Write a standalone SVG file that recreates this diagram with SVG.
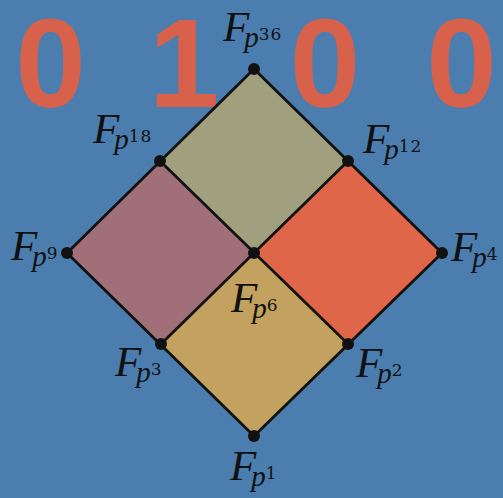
<svg xmlns="http://www.w3.org/2000/svg" width="503" height="498" viewBox="0 0 503 498">
<style>
.bg{fill:#4b7eaf}
.dig{font-family:"Liberation Sans",Arial,sans-serif;font-weight:bold;font-size:127px;fill:#d8614b;text-anchor:middle}
.edge{stroke:#111;stroke-width:2.8;stroke-linecap:round;fill:none}
.dot{fill:#111}
.lab{font-family:"Liberation Serif","Times New Roman",serif;fill:#111}
.F{font-style:italic;font-size:43px}
.p{font-style:italic;font-size:29px}
.s{font-family:"DejaVu Serif",serif;font-style:normal;font-size:17px;letter-spacing:1px}
</style>
<rect class="bg" x="0" y="0" width="503" height="498"/>
<g id="digits">
<text class="dig" x="50.5" y="107">0</text>
<text class="dig" x="184" y="107">1</text>
<text class="dig" x="325" y="107">0</text>
<text class="dig" x="461.5" y="107">0</text>
</g>
<g id="faces">
<polygon points="254,69 348,161 254,253 160,161" fill="#a0a07f"/>
<polygon points="160,161 254,253 161,344 67,253" fill="#a06f78"/>
<polygon points="348,161 442,253 348,344 254,253" fill="#e0664a"/>
<polygon points="254,253 348,344 254,436 161,344" fill="#c3a15e"/>
</g>
<g id="connectors">
<polyline class="edge" points="254,69 442,253 254,436 67,253 254,69"/>
<line class="edge" x1="160" y1="161" x2="348" y2="344"/>
<line class="edge" x1="348" y1="161" x2="161" y2="344"/>
</g>
<g id="n36"><circle class="dot" cx="254" cy="69" r="6"/><text class="lab" x="223" y="41"><tspan class="F">F</tspan><tspan class="p" dx="-5" dy="6">p</tspan><tspan class="s" dy="-7">36</tspan></text></g>
<g id="n18"><circle class="dot" cx="160" cy="161" r="6"/><text class="lab" x="93" y="143"><tspan class="F">F</tspan><tspan class="p" dx="-5" dy="6">p</tspan><tspan class="s" dy="-7">18</tspan></text></g>
<g id="n12"><circle class="dot" cx="348" cy="161" r="6"/><text class="lab" x="363" y="153"><tspan class="F">F</tspan><tspan class="p" dx="-5" dy="6">p</tspan><tspan class="s" dy="-7">12</tspan></text></g>
<g id="n9"><circle class="dot" cx="67" cy="253" r="6"/><text class="lab" x="11" y="260"><tspan class="F">F</tspan><tspan class="p" dx="-5" dy="6">p</tspan><tspan class="s" dy="-7">9</tspan></text></g>
<g id="n6"><circle class="dot" cx="254" cy="253" r="6"/><text class="lab" x="231" y="312"><tspan class="F">F</tspan><tspan class="p" dx="-5" dy="6">p</tspan><tspan class="s" dy="-7">6</tspan></text></g>
<g id="n4"><circle class="dot" cx="442" cy="253" r="6"/><text class="lab" x="451" y="261"><tspan class="F">F</tspan><tspan class="p" dx="-5" dy="6">p</tspan><tspan class="s" dy="-7">4</tspan></text></g>
<g id="n3"><circle class="dot" cx="161" cy="344" r="6"/><text class="lab" x="115" y="376"><tspan class="F">F</tspan><tspan class="p" dx="-5" dy="6">p</tspan><tspan class="s" dy="-7">3</tspan></text></g>
<g id="n2"><circle class="dot" cx="348" cy="344" r="6"/><text class="lab" x="356" y="377"><tspan class="F">F</tspan><tspan class="p" dx="-5" dy="6">p</tspan><tspan class="s" dy="-7">2</tspan></text></g>
<g id="n1"><circle class="dot" cx="254" cy="436" r="6"/><text class="lab" x="230" y="480"><tspan class="F">F</tspan><tspan class="p" dx="-5" dy="6">p</tspan><tspan class="s" dy="-7">1</tspan></text></g>
</svg>
